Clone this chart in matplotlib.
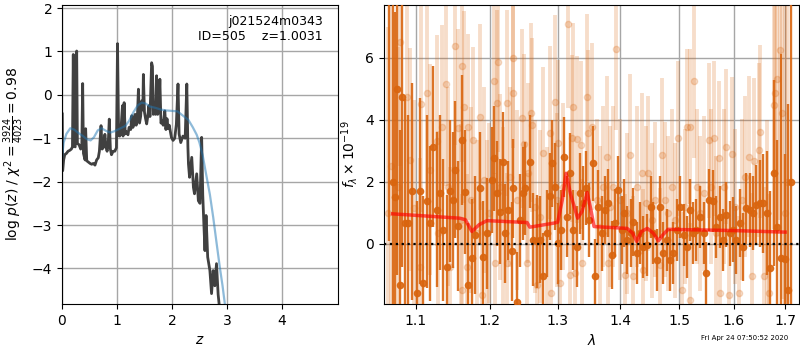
import numpy as np
import matplotlib
matplotlib.use('Agg')
import matplotlib.pyplot as plt
from matplotlib.ticker import ScalarFormatter, NullLocator

# log p(z) curve (dark)
pz_z = [0.005, 0.012, 0.03, 0.05, 0.08, 0.11, 0.14, 0.17, 0.19, 0.205,
        0.22, 0.24, 0.267, 0.28, 0.31, 0.34, 0.36, 0.376, 0.39, 0.42,
        0.43, 0.45, 0.48, 0.51, 0.54, 0.57, 0.60, 0.63, 0.66, 0.68,
        0.71, 0.73, 0.76, 0.78, 0.80, 0.82, 0.84, 0.86, 0.88, 0.90,
        0.93, 0.96, 0.99, 1.01, 1.03, 1.05, 1.07, 1.10, 1.11, 1.13,
        1.15, 1.17, 1.20, 1.22, 1.25, 1.27, 1.29, 1.31, 1.33, 1.35,
        1.37, 1.39, 1.41, 1.43, 1.45, 1.47, 1.48, 1.50, 1.52, 1.54,
        1.56, 1.58, 1.60, 1.63, 1.645, 1.66, 1.68, 1.70, 1.72, 1.74,
        1.76, 1.78, 1.80, 1.82, 1.84, 1.87, 1.89, 1.91, 1.93, 1.95,
        1.99, 2.02, 2.05, 2.08, 2.11, 2.13, 2.16, 2.20, 2.24, 2.27,
        2.29, 2.30, 2.32, 2.36, 2.39, 2.41, 2.45, 2.48, 2.51, 2.54,
        2.56, 2.58, 2.60, 2.62, 2.65, 2.69, 2.72, 2.75, 2.78, 2.81,
        2.84, 2.86, 2.87]
pz_log = [-0.44, -1.75, -1.50, -1.38, -1.35, -1.30, -1.28, -1.25, -1.20, 0.93,
          -1.18, -1.20, 1.01, -1.12, -1.15, -1.25, -1.20, 0.26, -1.35, -1.50,
          -0.78, -1.52, -1.55, -1.58, -1.60, -1.58, -1.62, -1.50, -1.45, -1.30,
          -0.71, -1.25, -1.20, -0.91, -1.20, -1.30, -1.15, -0.56, -1.25, -1.38,
          -1.30, -1.30, -1.22, 1.18, -0.94, -0.95, -0.84, -0.25, -0.95, -0.18,
          -0.90, -0.85, -0.92, -0.75, -0.80, -0.48, -0.75, -0.65, -0.45, -0.70,
          -0.55, 0.13, -0.65, -0.50, -0.14, -0.35, 0.47, -0.40, -0.55, -0.67,
          -0.50, -0.25, -0.50, 0.74, 0.66, -0.45, -0.30, -0.45, 0.44, -0.45,
          -0.40, 0.36, -0.65, -0.60, -0.70, -0.37, -0.80, -0.55, -0.78, -0.70,
          -0.98, -1.05, -1.00, -0.68, 0.25, -0.90, -1.10, -0.95, -1.00, 0.25,
          -1.20, -1.59, -1.90, -1.44, -2.13, -2.28, -1.82, -2.44, -2.50, -0.98,
          -2.30, -2.97, -3.59, -2.78, -3.74, -4.05, -4.58, -4.05, -4.40, -3.89,
          -4.60, -4.85, -5.50]

# smooth template prior curve (blue)
prior_z = [0.0, 0.03, 0.08, 0.15, 0.22, 0.30, 0.38, 0.45, 0.52, 0.58,
           0.65, 0.72, 0.80, 0.88, 0.95, 1.05, 1.15, 1.22, 1.30, 1.38,
           1.45, 1.52, 1.60, 1.70, 1.80, 1.90, 2.00, 2.10, 2.20, 2.30,
           2.38, 2.45, 2.50, 2.56, 2.62, 2.69, 2.75, 2.81, 2.87, 2.92, 2.97]
prior_log = [-1.45, -1.10, -0.90, -0.77, -0.80, -0.88, -0.95, -1.02, -1.05, -0.98,
             -0.82, -0.77, -0.83, -0.87, -0.84, -0.78, -0.72, -0.60, -0.40, -0.24,
             -0.18, -0.20, -0.27, -0.30, -0.34, -0.36, -0.37, -0.38, -0.48, -0.58,
             -0.75, -0.92, -1.10, -1.40, -1.82, -2.30, -2.82, -3.40, -3.97, -4.40, -4.90]

# binned spectrum (dark orange)
dark_wave = [1.0660, 1.0700, 1.0735, 1.0757, 1.0794, 1.0815, 1.0858, 1.0900, 1.0944, 1.1009,
             1.1052, 1.1095, 1.1148, 1.1183, 1.1227, 1.1272, 1.1316, 1.1361, 1.1405, 1.1450,
             1.1495, 1.1518, 1.1563, 1.1609, 1.1655, 1.1701, 1.1747, 1.1794, 1.1863, 1.1910,
             1.1956, 1.2027, 1.2060, 1.2098, 1.2146, 1.2184, 1.2218, 1.2266, 1.2315, 1.2339,
             1.2388, 1.2436, 1.2475, 1.2510, 1.2584, 1.2634, 1.2684, 1.2734, 1.2774, 1.2834,
             1.2884, 1.2919, 1.2960, 1.3011, 1.3053, 1.3099, 1.3150, 1.3192, 1.3244, 1.3307,
             1.3349, 1.3391, 1.3444, 1.3496, 1.3550, 1.3587, 1.3640, 1.3695, 1.3749, 1.3803,
             1.3858, 1.3912, 1.3967, 1.4023, 1.4061, 1.4116, 1.4172, 1.4216, 1.4272, 1.4328,
             1.4384, 1.4441, 1.4510, 1.4555, 1.4613, 1.4670, 1.4728, 1.4786, 1.4845, 1.4903,
             1.4962, 1.5021, 1.5080, 1.5139, 1.5187, 1.5247, 1.5308, 1.5380, 1.5440, 1.5489,
             1.5549, 1.5611, 1.5672, 1.5734, 1.5797, 1.5859, 1.5921, 1.5985, 1.6047, 1.6110,
             1.6175, 1.6238, 1.6302, 1.6368, 1.6430, 1.6495, 1.6562, 1.6640, 1.6705, 1.6770,
             1.6838, 1.6917, 1.7000, 1.7060, 1.7120]
dark_flux = [8.50, 2.00, 1.50, 4.99, -1.32, 4.75, 0.67, 0.67, 1.70, -1.60,
             1.70, -1.27, 1.37, 0.67, 3.14, 1.10, 1.65, 0.45, -0.73, 1.70,
             1.42, 2.40, 0.58, 3.35, 1.69, -1.32, -0.46, 0.29, 1.80, -0.41,
             0.34, 2.06, 2.76, 1.63, 1.04, 2.65, 0.34, 1.09, -0.24, 1.80,
             -1.86, 0.77, 1.63, 1.80, 2.65, 0.13, 0.08, 0.13, -1.05, 0.34,
             1.53, 2.60, 1.85, 0.02, 0.45, 2.80, 0.88, 2.28, 0.45, -0.09,
             1.63, 1.31, 1.80, 0.77, 2.60, -1.03, 1.20, 0.34, 1.10, 1.31,
             -0.35, 0.67, 1.75, 0.45, 0.99, 0.13, 0.34, 0.72, -0.30, 0.34,
             -0.09, -0.03, 1.20, 0.34, -0.52, 1.20, -0.30, 0.13, -0.52, -0.30,
             0.45, 1.20, 0.29, -0.09, 1.10, 0.34, 0.45, 0.88, 0.34, -0.95,
             1.42, 1.37, 0.56, 0.88, 0.13, 0.94, 0.34, 0.45, 0.13, 0.67,
             -0.09, 1.15, 1.10, 0.99, 1.26, 1.31, 1.31, 0.99, -0.78, 2.29,
             0.56, -0.46, -0.50, -1.50, 2.00]
dark_err = [8.40, 7.00, 6.00, 6.00, 5.00, 5.50, 4.00, 3.50, 3.50, 3.00,
            3.00, 2.80, 2.80, 2.50, 2.60, 2.50, 2.50, 2.30, 2.30, 2.30,
            2.20, 2.20, 2.10, 2.10, 2.00, 2.00, 1.90, 1.90, 1.80, 1.80,
            1.80, 1.70, 1.70, 1.70, 1.70, 1.60, 1.60, 1.60, 1.60, 1.60,
            1.60, 1.50, 1.50, 1.50, 1.50, 1.50, 1.50, 1.40, 1.40, 1.40,
            1.40, 1.40, 1.40, 1.30, 1.30, 1.30, 1.30, 1.30, 1.30, 1.30,
            1.30, 1.20, 1.20, 1.20, 1.20, 1.20, 1.20, 1.20, 1.10, 1.10,
            1.10, 1.10, 1.10, 1.10, 1.10, 1.10, 1.10, 1.10, 1.00, 1.00,
            1.00, 1.00, 1.00, 1.00, 1.00, 1.00, 1.00, 1.00, 1.00, 1.00,
            1.00, 1.00, 1.00, 1.00, 1.00, 1.00, 1.00, 1.00, 1.00, 1.00,
            1.00, 1.00, 1.00, 1.00, 1.00, 1.05, 1.05, 1.05, 1.10, 1.10,
            1.10, 1.15, 1.20, 1.20, 1.30, 1.40, 1.60, 2.00, 2.50, 3.00,
            2.80, 6.60, 3.40, 6.00, 9.00]

# unbinned spectrum (light orange)
light_wave = [1.0640, 1.0680, 1.0771, 1.0794, 1.0879, 1.0922, 1.0974, 1.1052, 1.1065, 1.1140,
              1.1183, 1.1272, 1.1294, 1.1339, 1.1396, 1.1427, 1.1450, 1.1518, 1.1563, 1.1595,
              1.1609, 1.1617, 1.1641, 1.1678, 1.1692, 1.1733, 1.1770, 1.1817, 1.1863, 1.1886,
              1.1919, 1.1956, 1.1993, 1.2060, 1.2079, 1.2098, 1.2113, 1.2146, 1.2194, 1.2242,
              1.2251, 1.2290, 1.2329, 1.2339, 1.2388, 1.2461, 1.2495, 1.2535, 1.2559, 1.2594,
              1.2609, 1.2659, 1.2684, 1.2734, 1.2784, 1.2834, 1.2884, 1.2899, 1.2960, 1.2986,
              1.3011, 1.3037, 1.3088, 1.3161, 1.3192, 1.3218, 1.3244, 1.3270, 1.3296, 1.3359,
              1.3375, 1.3454, 1.3480, 1.3533, 1.3614, 1.3668, 1.3722, 1.3776, 1.3790, 1.3830,
              1.3884, 1.3929, 1.3995, 1.4077, 1.4116, 1.4160, 1.4216, 1.4272, 1.4356, 1.4384,
              1.4429, 1.4469, 1.4526, 1.4584, 1.4670, 1.4699, 1.4757, 1.4815, 1.4874, 1.4933,
              1.4991, 1.5050, 1.5110, 1.5139, 1.5187, 1.5199, 1.5259, 1.5320, 1.5380, 1.5440,
              1.5531, 1.5575, 1.5624, 1.5672, 1.5716, 1.5747, 1.5809, 1.5859, 1.5903, 1.5966,
              1.6028, 1.6091, 1.6155, 1.6219, 1.6283, 1.6348, 1.6379, 1.6476, 1.6508, 1.6573,
              1.6640, 1.6672, 1.6770, 1.6803, 1.6838, 1.6904, 1.6937, 1.7000, 1.7040]
light_flux = [1.00, 2.50, 1.85, 6.53, 4.75, 2.71, 1.15, -0.73, 4.52, 4.88,
              2.39, 3.33, 0.34, 3.78, 5.16, 1.85, -0.73, 6.39, 3.73, 0.77,
              5.74, -1.48, 4.43, -0.73, 3.78, 1.42, 3.35, 0.34, 4.11, -1.65,
              2.06, 0.34, 0.99, 5.27, -0.62, 4.54, 5.88, 1.85, 0.88, 4.54,
              -0.62, 2.17, 4.88, 5.99, 1.42, 4.05, 3.23, -0.62, 2.28, 4.24,
              3.84, 1.20, -1.32, 0.88, 2.92, 0.34, 3.59, -1.59, 4.59, 1.42,
              3.25, -1.27, 1.85, 7.09, -1.00, 3.41, 4.43, -0.95, 3.38, 3.19,
              -0.62, 4.73, 3.57, 3.78, 1.42, 0.56, 1.85, 2.82, -0.62, 1.20,
              1.85, 6.28, 1.42, -1.00, 0.99, 2.87, -1.05, 1.85, 2.28, -0.84,
              1.31, 2.28, 0.77, 1.42, -0.68, 2.87, 1.42, 0.99, 1.85, 0.77,
              3.41, -1.48, 1.20, 3.78, 3.78, -1.81, 5.26, 1.85, 0.99, 1.63,
              3.35, 1.85, 3.41, 0.34, 2.76, -1.59, 1.85, 3.14, -1.65, 2.90,
              1.20, -1.59, 1.42, 2.17, 2.82, -1.05, 2.66, 3.03, 3.62, -1.05,
              0.99, -1.59, 4.48, 4.88, 5.31, 6.26, 4.22, 1.00, 2.00]
light_err = [6.0, 6.0, 4.5, 4.0, 3.8, 3.6, 3.5, 3.5, 3.5, 3.4,
             3.4, 3.4, 3.3, 3.3, 3.3, 3.2, 3.2, 3.2, 3.2, 3.1,
             3.1, 3.1, 3.1, 3.0, 3.0, 3.0, 3.0, 3.0, 3.0, 3.0,
             3.0, 3.0, 2.9, 3.0, 2.9, 3.0, 2.9, 3.0, 2.9, 3.0,
             2.9, 2.9, 2.9, 2.9, 2.9, 2.9, 2.9, 2.9, 2.9, 2.9,
             2.8, 2.8, 2.8, 2.8, 2.8, 2.8, 2.8, 2.8, 2.8, 2.8,
             2.7, 2.7, 2.7, 2.7, 2.7, 2.7, 2.7, 2.7, 2.7, 2.7,
             2.7, 2.7, 2.7, 2.7, 2.6, 2.6, 2.6, 2.6, 2.6, 2.6,
             2.6, 2.6, 2.6, 2.6, 2.6, 2.6, 2.6, 2.6, 2.6, 2.6,
             2.5, 2.5, 2.5, 2.5, 2.5, 2.5, 2.5, 2.5, 2.5, 2.5,
             2.5, 2.5, 2.5, 2.5, 2.5, 2.5, 2.5, 2.5, 2.5, 2.5,
             2.5, 2.5, 2.5, 2.5, 2.5, 2.5, 2.5, 2.5, 2.5, 2.5,
             2.5, 2.5, 2.6, 2.6, 2.6, 2.7, 2.7, 2.8, 2.8, 2.9,
             3.0, 3.2, 4.0, 4.5, 5.0, 5.5, 6.0, 7.0, 8.0]

# best-fit model (red)
model_wave = [1.070, 1.158, 1.166, 1.175, 1.185, 1.196, 1.254, 1.258, 1.294, 1.300,
              1.307, 1.313, 1.320, 1.331, 1.338, 1.346, 1.352, 1.357, 1.411, 1.420,
              1.427, 1.435, 1.445, 1.455, 1.464, 1.472, 1.481, 1.600, 1.700]
model_flux = [0.97, 0.83, 0.78, 0.40, 0.62, 0.75, 0.69, 0.54, 0.67, 0.70,
              1.40, 2.28, 1.60, 0.83, 1.05, 1.66, 1.10, 0.56, 0.50, 0.35,
              0.08, 0.40, 0.50, 0.35, 0.10, 0.30, 0.47, 0.43, 0.38]

orange = '#d9650f'

fig = plt.figure(figsize=(8, 3.5), dpi=100)

# ---- left: p(z)
ax1 = fig.add_axes([0.0775, 0.1314, 0.345, 0.8543])
ax1.plot(pz_z, pz_log, color='0.25', lw=2)
ax1.plot(prior_z, prior_log, color='tab:blue', alpha=0.5, lw=1.6)
ax1.set_xlim(0, 5.02)
ax1.set_ylim(-4.82, 2.07)
ax1.set_xticks([0, 1, 2, 3, 4])
ax1.set_yticks([-4, -3, -2, -1, 0, 1, 2])
ax1.grid(True, color='0.65', lw=1)
ax1.set_xlabel(r'$z$')
ax1.set_ylabel(r'log $p(z)$ / $\chi^2=\frac{3924}{4023}=0.98$')
ax1.text(0.945, 0.965, 'j021524m0343\nID=505    z=1.0031', transform=ax1.transAxes,
         ha='right', va='top', fontsize=9, linespacing=1.2)

# ---- right: spectrum
ax2 = fig.add_axes([0.48, 0.1314, 0.51875, 0.8543])
ax2.errorbar(light_wave, light_flux, yerr=light_err, fmt='o', color=orange, alpha=0.22,
             ms=4.5, elinewidth=2.8, capsize=0, zorder=2)
ax2.errorbar(dark_wave, dark_flux, yerr=dark_err, fmt='o', color=orange, alpha=0.9,
             ms=4.5, elinewidth=1.7, capsize=0, zorder=3)
ax2.plot(model_wave, model_flux, color='red', alpha=0.65, lw=2.5, zorder=4)
ax2.axhline(0, color='k', ls=':', lw=1.6, zorder=5)
ax2.set_xscale('log')
ax2.set_xlim(1.0593, 1.728)
ax2.set_ylim(-1.94, 7.71)
ax2.set_xticks([1.1, 1.2, 1.3, 1.4, 1.5, 1.6, 1.7])
ax2.xaxis.set_major_formatter(ScalarFormatter())
ax2.xaxis.set_minor_locator(NullLocator())
ax2.set_yticks([0, 2, 4, 6])
ax2.grid(True, color='0.65', lw=1)
ax2.set_axisbelow(True)
ax2.set_xlabel(r'$\lambda$')
ax2.set_ylabel(r'$f_\lambda \times 10^{-19}$')

fig.text(0.985, 0.025, 'Fri Apr 24 07:50:52 2020', ha='right', va='bottom', fontsize=5)

fig.savefig('out.png', dpi=100)
